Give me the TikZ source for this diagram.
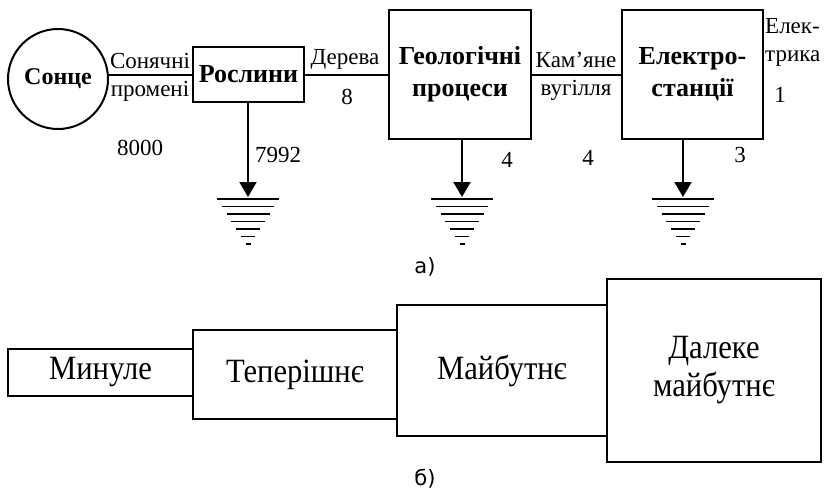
\documentclass[tikz,border=0pt]{standalone}
\usepackage{fontspec}
\setmainfont{Liberation Serif}
\newfontfamily\capfont{DejaVu Sans}
\newfontfamily\narrowserif[FakeStretch=0.9]{Liberation Serif}
\usetikzlibrary{arrows.meta,calc}
\tikzset{
  ebox/.style={draw,line width=2pt,inner sep=0pt,align=center,font=\fontsize{26}{32}\selectfont\bfseries},
  esun/.style={draw,circle,line width=2pt,inner sep=0pt,minimum size=100pt,font=\fontsize{24}{30}\selectfont\bfseries},
  elab/.style={inner sep=0pt,align=center,font=\fontsize{23}{28}\selectfont},
  eline/.style={line width=2pt},
  earr/.style={-{Triangle[length=15pt,width=17pt]},line width=2pt},
  egnd/.style={line width=1.6pt},
  tbox/.style={draw,line width=1.8pt,inner sep=0pt,align=center,font=\narrowserif\fontsize{34}{38}\selectfont},
  ecap/.style={inner sep=0pt,font=\capfont\fontsize{21}{24}\selectfont}
}

\begin{document}
\begin{tikzpicture}[x=1pt,y=-1pt]
  \useasboundingbox (0,0) rectangle (825,493);
  % a) energy chain
  \node[esun] (sun) at (58,79) {\raisebox{-5pt}{Сонце}};
  \node[ebox,minimum width=111pt,minimum height=55pt] (plants) at (248.5,74.5) {\raisebox{-3pt}{Рослини}};
  \node[ebox,minimum width=142pt,minimum height=129pt] (geo) at (460,74.5) {Геологічні\\процеси};
  \node[ebox,minimum width=141pt,minimum height=129pt] (power) at (692.5,74.5) {Електро-\\станції};
  \draw[eline] (plants.west) -- (plants.west -| sun.east);
  \draw[eline] (plants.east) -- (plants.east -| geo.west);
  \draw[eline] (geo.east) -- (geo.east -| power.west);
  \node[elab] (rays) at (150,77) {Сонячні\\промені};
  \node[elab] (trees) at (345,59) {Дерева};
  \node[elab] (coal) at (576,76) {Кам’яне\\вугілля};
  \node[elab,anchor=west,align=left] (elec) at (765,42) {Елек-\\трика};
  \node[elab] (n8000) at (140,148) {8000};
  \node[elab] (n8) at (347,97) {8};
  \node[elab] (n7992) at (278,155) {7992};
  \node[elab] (n4a) at (507,160) {4};
  \node[elab] (n4b) at (588,158) {4};
  \node[elab] (n3) at (740,155) {3};
  \node[elab] (n1) at (780,95) {1};
  % losses to ground
  \coordinate (g1) at (248,197);
  \coordinate (g2) at (462,197);
  \coordinate (g3) at (683,197);
  \draw[earr] (plants.south -| g1) -- (g1);
  \draw[earr] (geo.south -| g2) -- (g2);
  \draw[earr] (power.south -| g3) -- (g3);
  \foreach \g in {g1,g2,g3}{
    \foreach \i in {0,...,6}{
      \draw[egnd] ($(\g)+(-31+4.75*\i,2+7.5*\i)$) -- ++(62-9.5*\i,0);
    }
  }
  \node[ecap] (capa) at (425,267) {а)};
  % b) time horizons
  \node[tbox,minimum width=185pt,minimum height=47pt] (past) at (100.5,372.5) {Минуле};
  \node[tbox,minimum width=204pt,minimum height=89pt] (present) at (295,374.5) {Теперішнє};
  \node[tbox,minimum width=210pt,minimum height=131pt] (future) at (502,370.5) {Майбутнє};
  \node[tbox,minimum width=214pt,minimum height=183pt] (farfut) at (714,370.5) {Далеке\\майбутнє};
  \node[ecap] (capb) at (425,479) {б)};
\end{tikzpicture}
\end{document}
